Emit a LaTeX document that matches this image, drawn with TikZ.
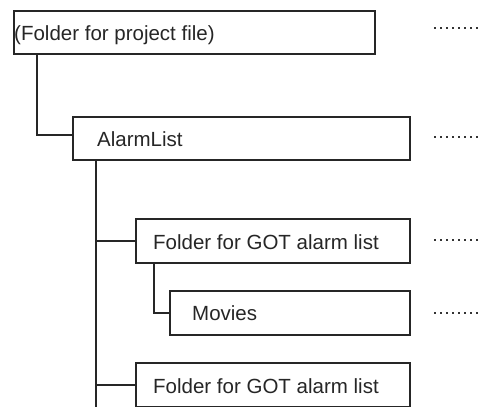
\documentclass[tikz,border=0pt]{standalone}
\usepackage{fontspec}
\setmainfont{Liberation Sans}
\begin{document}
\begin{tikzpicture}[x=1pt,y=-1pt,
  box/.style={draw=black!85, line width=2pt, inner sep=0pt, anchor=north west},
  lbl/.style={anchor=base west, inner sep=0pt, font=\fontsize{20.5}{24}\selectfont, text=black!85},
  tree/.style={draw=black!85, line width=2pt},
  leader/.style={draw=black!80, line width=1.5pt, dash pattern=on 1.5pt off 4.5pt}]
\useasboundingbox (0,0) rectangle (482,407);
% boxes
\node[box, minimum width=361pt, minimum height=43pt] (b1) at (13,10) {};
\node[box, minimum width=337pt, minimum height=43pt] (b2) at (72,116) {};
\node[box, minimum width=274pt, minimum height=44pt] (b3) at (135,218) {};
\node[box, minimum width=240pt, minimum height=44pt] (b4) at (169,289.5) {};
\node[box, minimum width=274pt, minimum height=44pt] (b5) at (135,362) {};
% labels
\node[lbl] (t1) at (14,40) {(Folder for project file)};
\node[lbl] (t2) at (97,146) {AlarmList};
\node[lbl] (t3) at (153,249) {Folder for GOT alarm list};
\node[lbl] (t4) at (192,320.5) {Movies};
\node[lbl] (t5) at (153,393.5) {Folder for GOT alarm list};
% tree connectors
\coordinate (trunkend) at (96,410);
\draw[tree] ([xshift=24pt]b1.south west) |- ([yshift=4pt]b2.west);
\draw[tree] ([xshift=24pt]b2.south west) -- (trunkend);
\draw[tree] (b3.west -| trunkend) -- (b3.west);
\draw[tree] (b5.west -| trunkend) -- (b5.west);
\draw[tree] ([xshift=19pt]b3.south west) |- (b4.west);
% leader dots
\draw[leader] (434,28) -- (482,28);
\draw[leader] (434,137) -- (482,137);
\draw[leader] (434,240) -- (482,240);
\draw[leader] (434,313) -- (482,313);
\end{tikzpicture}
\end{document}
